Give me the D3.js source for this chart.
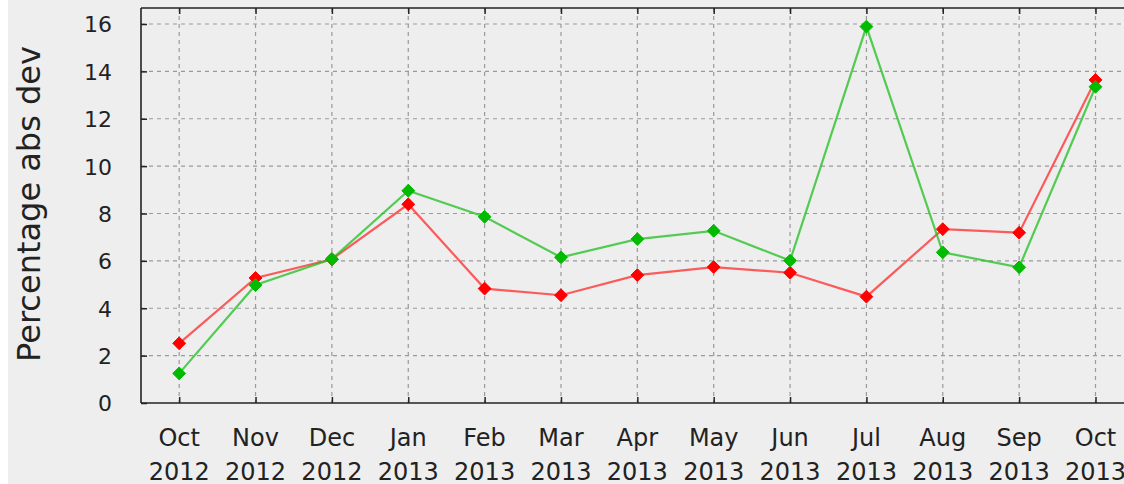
<!DOCTYPE html>
<html>
<head>
<meta charset="utf-8">
<script src="https://cdn.jsdelivr.net/npm/d3@7"></script>
<style>
  html, body { margin: 0; padding: 0; background: #ffffff; }
  svg { display: block; }
  text { font-family: "DejaVu Sans", sans-serif; fill: #222; }
</style>
</head>
<body>
<svg id="chart" width="1124" height="484"></svg>
<script>
// Monthly percentage absolute deviation, two series
const months = ["Oct", "Nov", "Dec", "Jan", "Feb", "Mar", "Apr", "May", "Jun", "Jul", "Aug", "Sep", "Oct"];
const years  = ["2012", "2012", "2012", "2013", "2013", "2013", "2013", "2013", "2013", "2013", "2013", "2013", "2013"];
const redValues   = [2.52, 5.28, 6.07, 8.39, 4.83, 4.55, 5.40, 5.74, 5.50, 4.49, 7.34, 7.19, 13.64];
const greenValues = [1.25, 4.98, 6.08, 8.96, 7.86, 6.15, 6.92, 7.27, 6.01, 15.89, 6.36, 5.73, 13.35];
const yTicks = [0, 2, 4, 6, 8, 10, 12, 14, 16];
const yLabel = "Percentage abs dev";

const W = 1124, H = 484;
const plotLeft = 141, plotBottom = 403, plotTop = 8;
const plotRight = plotLeft + 13 * 76.36;

const svg = d3.select("#chart");

// backgrounds
svg.append("rect").attr("x", 0).attr("y", 0).attr("width", W).attr("height", H).attr("fill", "#ffffff");
svg.append("rect").attr("x", 8).attr("y", 0).attr("width", W - 8).attr("height", H).attr("fill", "#eeeeee");

const keys = months.map((m, i) => i);
const x = d3.scalePoint().domain(keys).range([plotLeft, plotRight]).padding(0.5);
const y = d3.scaleLinear().domain([0, 16]).range([plotBottom, 24]);

// grid
const grid = svg.append("g").attr("stroke", "#9a9a9a").attr("stroke-width", 1.2)
  .attr("stroke-dasharray", "4,4").attr("fill", "none");
yTicks.filter(v => v > 0).forEach(v => {
  grid.append("line").attr("x1", plotLeft).attr("x2", W).attr("y1", y(v)).attr("y2", y(v));
});
keys.forEach(k => {
  grid.append("line").attr("x1", x(k)).attr("x2", x(k)).attr("y1", plotTop).attr("y2", plotBottom);
});

// axes (ticks pointing inward)
const yAxis = d3.axisLeft(y).tickValues(yTicks).tickSizeInner(-6).tickSizeOuter(0).tickPadding(29)
  .tickFormat(d3.format("d"));
const gy = svg.append("g").attr("transform", `translate(${plotLeft},0)`).call(yAxis);
gy.select(".domain").remove();
gy.selectAll(".tick line").attr("stroke", "#222").attr("stroke-width", 1.5);
gy.selectAll(".tick text").attr("font-size", 22).attr("fill", "#222")
  .attr("font-family", "DejaVu Sans, sans-serif").attr("dy", "0.36em");

const xAxis = d3.axisBottom(x).tickSizeInner(-6).tickSizeOuter(0).tickFormat(() => "");
const gx = svg.append("g").attr("transform", `translate(0,${plotBottom})`).call(xAxis);
gx.select(".domain").remove();
gx.selectAll(".tick line").attr("stroke", "#222").attr("stroke-width", 1.5);

const xTop = d3.axisTop(x).tickSizeInner(-6).tickSizeOuter(0).tickFormat(() => "");
const gt = svg.append("g").attr("transform", `translate(0,${plotTop})`).call(xTop);
gt.select(".domain").remove();
gt.selectAll(".tick line").attr("stroke", "#222").attr("stroke-width", 1.5);

// frame lines
svg.append("line").attr("x1", plotLeft).attr("x2", W).attr("y1", plotBottom).attr("y2", plotBottom)
  .attr("stroke", "#222").attr("stroke-width", 1.6);
svg.append("line").attr("x1", plotLeft).attr("x2", W).attr("y1", plotTop).attr("y2", plotTop)
  .attr("stroke", "#222").attr("stroke-width", 1.6);
svg.append("line").attr("x1", plotLeft).attr("x2", plotLeft).attr("y1", plotTop).attr("y2", plotBottom)
  .attr("stroke", "#222").attr("stroke-width", 1.6);

// two-line month labels
const labels = svg.append("g").attr("font-size", 24).attr("text-anchor", "middle");
keys.forEach(k => {
  labels.append("text").attr("x", x(k)).attr("y", 446).text(months[k]);
  labels.append("text").attr("x", x(k)).attr("y", 480).text(years[k]);
});

// y axis title
svg.append("text").attr("transform", `translate(39.5,204) rotate(-90)`)
  .attr("text-anchor", "middle").attr("font-size", 32).attr("fill", "#222").text(yLabel);

// series
const line = d3.line().x((d, i) => x(i)).y(d => y(d));
const diamond = d3.symbol().type(d3.symbolDiamond2).size(105);

function drawSeries(values, lineColor, markColor) {
  svg.append("path").datum(values).attr("d", line).attr("fill", "none")
    .attr("stroke", lineColor).attr("stroke-width", 2.2).attr("stroke-opacity", 0.75);
  svg.append("g").selectAll("path").data(values).join("path")
    .attr("d", diamond)
    .attr("transform", (d, i) => `translate(${x(i)},${y(d)})`)
    .attr("fill", markColor).attr("stroke", markColor).attr("stroke-width", 1);
}
drawSeries(redValues, "#ff2a2a", "#ff0000");
drawSeries(greenValues, "#1fbf1f", "#00bb00");
</script>
</body>
</html>
